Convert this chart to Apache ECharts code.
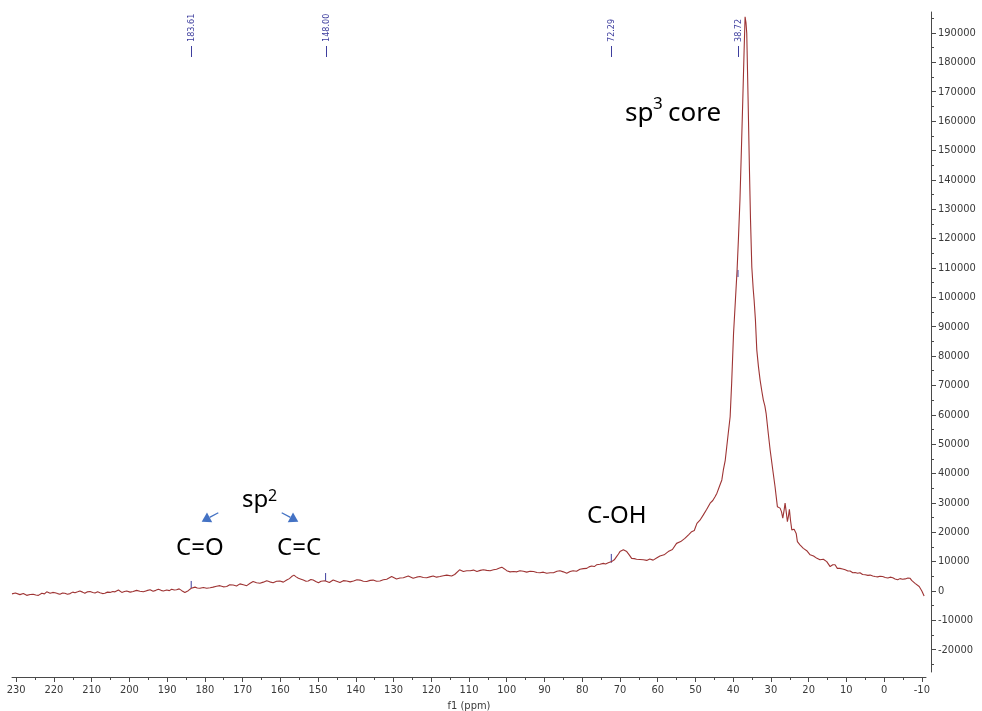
<!DOCTYPE html>
<html><head><meta charset="utf-8">
<script src="https://cdn.jsdelivr.net/npm/echarts@6/dist/echarts.min.js"></script>
<style>html,body{margin:0;padding:0;background:#fff}#c{width:982px;height:711px}</style>
</head><body><div id="c"></div>
<script>
// ---- data ----
const ppm = [231.1,230.2,229.0,228.1,227.2,226.3,225.5,224.8,224.1,223.2,222.5,221.9,221.0,220.3,219.7,219.0,218.4,217.7,217.1,216.4,215.7,215.0,214.4,213.7,213.1,212.4,211.8,211.1,210.4,209.7,209.1,208.4,207.8,207.1,206.5,205.8,205.1,204.4,203.8,202.9,202.0,201.3,200.7,199.8,199.0,198.1,197.2,196.3,195.4,194.5,193.7,193.0,192.3,191.6,191.0,190.1,189.4,188.8,188.1,187.5,186.8,186.1,185.3,184.4,183.6,182.6,182.0,181.3,180.4,179.5,178.6,177.8,176.9,176.0,175.1,174.2,173.4,172.5,171.6,170.7,169.8,168.9,168.0,167.2,166.3,165.4,164.5,163.6,162.8,161.9,161.0,160.1,159.2,158.3,157.6,157.0,156.4,155.8,155.2,154.5,153.9,153.2,152.6,151.9,151.3,150.6,149.9,149.2,148.2,147.7,147.0,146.0,145.1,144.2,143.3,142.4,141.5,140.6,139.7,138.9,138.0,137.1,136.2,135.4,134.5,133.6,132.7,131.8,130.5,129.2,128.3,127.4,126.1,124.8,123.9,123.0,122.1,121.2,120.4,119.5,118.6,117.7,116.8,115.9,114.6,113.8,113.3,112.5,111.5,110.6,109.7,108.8,107.9,107.0,106.2,105.3,104.4,103.5,102.7,101.9,101.3,100.6,100.0,99.1,98.2,97.3,96.5,95.6,94.7,93.8,92.9,92.0,91.2,90.3,89.4,88.5,87.6,86.7,85.9,85.0,84.1,83.2,82.4,81.5,80.6,79.7,78.8,78.2,77.5,76.8,76.2,75.3,74.4,73.8,73.1,72.2,71.5,70.9,70.4,70.0,69.5,69.1,68.6,68.2,67.5,66.9,66.2,65.6,64.7,63.8,62.9,62.1,61.2,60.3,59.4,58.3,57.2,56.1,55.0,53.9,52.8,51.7,51.0,50.3,49.6,48.8,47.9,47.0,46.1,45.4,44.8,44.3,43.5,43.0,42.6,42.1,41.7,41.3,40.8,40.4,39.9,39.4,38.96,38.6,38.2,37.8,37.45,37.1,36.84,36.6,36.4,36.04,35.7,35.4,35.06,34.7,34.45,34.1,33.74,33.3,32.86,32.4,32.0,31.6,31.27,30.7,30.2,29.5,28.9,28.28,27.9,27.57,27.2,26.85,26.5,26.24,25.9,25.63,25.35,25.1,24.8,24.46,23.85,23.3,22.98,22.3,21.4,20.5,19.6,18.7,17.8,17.0,16.1,15.2,14.3,13.6,13.0,12.4,11.7,11.0,10.3,9.6,9.0,8.3,7.7,7.0,6.4,5.7,5.0,4.3,3.7,3.0,2.4,1.7,1.1,0.4,-0.3,-1.0,-1.6,-2.3,-2.9,-3.6,-4.2,-4.9,-5.6,-6.3,-6.9,-7.3,-7.7,-8.2,-8.7,-9.3,-10.0,-10.6,-11.1];
const intensity = [-1000,-700,-1250,-900,-1500,-1200,-1100,-1400,-1500,-800,-1000,-300,-800,-500,-600,-900,-1100,-700,-800,-1100,-900,-400,-600,-300,0,-400,-800,-300,-200,-500,-700,-300,-600,-900,-800,-400,-500,-200,-300,300,-500,-200,0,-400,-200,200,-100,-300,100,400,-100,200,600,200,0,300,100,600,300,400,700,100,-500,100,900,1300,1000,900,1200,900,1100,1300,1600,1800,1400,1500,2100,2000,1700,2400,2100,1800,2600,3200,2800,2600,3000,3500,3100,2800,3300,3400,3000,3700,4200,4900,5400,4800,4300,4000,3700,3300,3400,3900,3700,3200,2800,3300,3500,3200,2900,3700,3300,2900,3500,3400,3100,3400,3800,3700,3300,3200,3600,3700,3300,3400,3800,4000,4900,4100,4400,4500,5100,4300,4700,4900,4600,4500,4800,5100,4700,4900,5200,5400,5100,5600,6000,7200,6600,6900,6900,7100,6600,7000,7200,7000,6900,7200,7400,7800,8100,7500,6900,6500,6600,6500,6900,6700,6400,6700,6600,6300,6200,6400,6000,6200,6200,6700,6900,6500,6000,6600,6900,6700,7400,7600,7700,8200,8500,8300,8900,9100,9400,9200,9600,10000,10600,11700,12600,13400,13000,14000,14200,13400,12200,11100,11000,10800,10700,10600,10400,10900,10500,11200,11900,12300,13400,14100,16200,16800,17900,19300,20200,20600,23000,24100,25900,27800,29900,30800,32100,33300,36100,37800,41200,44500,49100,53700,59300,70700,87700,99100,109300,120000,133100,151000,167200,184000,195500,193500,189900,167200,144400,126300,110300,103000,99100,92300,82100,76400,71800,68000,65000,63000,60500,53700,48000,41200,35500,28700,28900,28200,27000,24800,27500,29900,26500,23600,25500,27800,24000,20800,21000,19600,16800,15700,14500,13700,12300,11900,11100,10600,10800,10000,8300,8900,8900,7700,7700,7500,7200,6800,6800,6200,6300,6000,6200,5600,5500,5300,5400,5100,4900,4800,5000,4900,4600,4400,4700,4500,4100,3800,4200,4000,4100,4400,4300,3600,3300,2600,2900,1500,0,-1700];

const xMajorTicks = [-10,0,10,20,30,40,50,60,70,80,90,100,110,120,130,140,150,160,170,180,190,200,210,220,230];
const xMinorTicks = [-5,5,15,25,35,45,55,65,75,85,95,105,115,125,135,145,155,165,175,185,195,205,215,225];
const yMajorTicks = [-20000,-10000,0,10000,20000,30000,40000,50000,60000,70000,80000,90000,100000,110000,120000,130000,140000,150000,160000,170000,180000,190000];
const yMinorTicks = [-25000,-15000,-5000,5000,15000,25000,35000,45000,55000,65000,75000,85000,95000,105000,115000,125000,135000,145000,155000,165000,175000,185000,195000];

const peakLabels = ['183.61','148.00','72.29','38.72'];
const peakPpm = [183.61,148.00,72.29,38.72];
const pickLow = [1000,3400,9600,106900];
const pickHigh = [3400,6100,12600,109300];

// ---- styles ----
const AXIS_FONT = '"DejaVu Sans Condensed","DejaVu Sans","Liberation Sans",sans-serif';
const AXIS_COLOR = '#4a4a4a';
const LABEL_COLOR = '#3a3a3a';
const PEAK_BLUE = '#3e3e9e';
const SPEC_COLOR = '#9e3434';
const ARROW_BLUE = '#4472c4';
const ANNOT_FONT = '"Noto Sans","Open Sans",sans-serif';

const chart = echarts.init(document.getElementById('c'), null, {renderer: 'canvas'});

function arrow(x1, y1, tx, ty) {
  const dx = tx - x1, dy = ty - y1, len = Math.sqrt(dx*dx + dy*dy);
  const ux = dx/len, uy = dy/len, hl = 9, hw = 5.5;
  const bx = tx - ux*hl, by = ty - uy*hl;
  return [
    {type:'line', shape:{x1:x1, y1:y1, x2:bx, y2:by}, style:{stroke:ARROW_BLUE, lineWidth:1.3}},
    {type:'polygon', shape:{points:[[tx,ty],[bx - uy*hw, by + ux*hw],[bx + uy*hw, by - ux*hw]]}, style:{fill:ARROW_BLUE}}
  ];
}
function txt(text, x, y, size) {
  return {type:'text', x:x, y:y, style:{text:text, fill:'#000', font: size + 'px ' + ANNOT_FONT, align:'left', verticalAlign:'middle'}};
}
const plain = v => String(v);

const option = {
  animation: false,
  backgroundColor: '#fff',
  grid: {left: 12, right: 56, top: 12, bottom: 39, containLabel: false, outerBoundsMode: 'none'},
  xAxis: [
    {
      type: 'value', inverse: true, min: -11.1, max: 231.1, position: 'bottom', offset: 5,
      axisLine: {show: true, onZero: false, lineStyle: {color: AXIS_COLOR, width: 1}},
      axisTick: {show: true, length: 5, customValues: xMajorTicks, lineStyle: {color: AXIS_COLOR}},
      axisLabel: {customValues: xMajorTicks, formatter: plain, margin: 8, color: LABEL_COLOR, fontSize: 11, fontFamily: AXIS_FONT},
      splitLine: {show: false},
      name: 'f1 (ppm)', nameLocation: 'middle', nameGap: 23,
      nameTextStyle: {color: LABEL_COLOR, fontSize: 11, fontFamily: AXIS_FONT}
    },
    {
      type: 'value', inverse: true, min: -11.1, max: 231.1, position: 'bottom', offset: 5,
      axisLine: {show: false, onZero: false},
      axisTick: {show: true, length: 3, customValues: xMinorTicks, lineStyle: {color: AXIS_COLOR}},
      axisLabel: {show: false},
      splitLine: {show: false}
    }
  ],
  yAxis: [
    {
      type: 'value', min: -27600, max: 197150, position: 'right', offset: 5,
      axisLine: {show: true, onZero: false, lineStyle: {color: AXIS_COLOR, width: 1}},
      axisTick: {show: true, length: 5, customValues: yMajorTicks, lineStyle: {color: AXIS_COLOR}},
      axisLabel: {customValues: yMajorTicks, formatter: plain, margin: 7, color: LABEL_COLOR, fontSize: 11, fontFamily: AXIS_FONT},
      splitLine: {show: false}
    },
    {
      type: 'value', min: -27600, max: 197150, position: 'right', offset: 5,
      axisLine: {show: false, onZero: false},
      axisTick: {show: true, length: 3, customValues: yMinorTicks, lineStyle: {color: AXIS_COLOR}},
      axisLabel: {show: false},
      splitLine: {show: false}
    }
  ],
  series: [
    {
      type: 'line', xAxisIndex: 0, yAxisIndex: 0,
      data: ppm.map((p, i) => [p, intensity[i]]),
      showSymbol: false, symbol: 'none', clip: false,
      lineStyle: {color: SPEC_COLOR, width: 1.1},
      silent: true
    },
    {
      type: 'custom', xAxisIndex: 0, yAxisIndex: 0, clip: false, silent: true,
      data: peakPpm.map((p, i) => [p, pickLow[i], pickHigh[i]]),
      renderItem: function (params, api) {
        const a = api.coord([api.value(0), api.value(1)]);
        const b = api.coord([api.value(0), api.value(2)]);
        return {type: 'line', shape: {x1: a[0], y1: a[1], x2: b[0], y2: b[1]}, style: {stroke: PEAK_BLUE, lineWidth: 1}};
      }
    },
    {
      type: 'custom', xAxisIndex: 0, yAxisIndex: 0, clip: false, silent: true,
      data: peakPpm.map(p => [p, 0]),
      renderItem: function (params, api) {
        const x = Math.round(api.coord([api.value(0), 0])[0]) + 0.5;
        const top = params.coordSys.y;
        return {type: 'group', children: [
          {type: 'text', x: x, y: top + 30, rotation: Math.PI / 2,
           style: {text: peakLabels[params.dataIndex], fill: PEAK_BLUE, font: '9px ' + AXIS_FONT, align: 'left', verticalAlign: 'middle'}},
          {type: 'line', shape: {x1: x, y1: top + 34, x2: x, y2: top + 45}, style: {stroke: PEAK_BLUE, lineWidth: 1}}
        ]};
      }
    }
  ],
  graphic: [
    txt('sp', 625, 114, 26),
    txt('3', 653, 104, 17),
    txt('core', 668, 114, 26),
    txt('sp', 242, 500, 24),
    txt('2', 268, 496, 16),
    txt('C=O', 176, 548, 24),
    txt('C=C', 277, 548, 24),
    txt('C-OH', 587, 516, 24)
  ].concat(arrow(218.3, 512.7, 201.7, 521.7)).concat(arrow(281.7, 512.7, 298.3, 521.7))
};
chart.setOption(option);
</script>
</body></html>
